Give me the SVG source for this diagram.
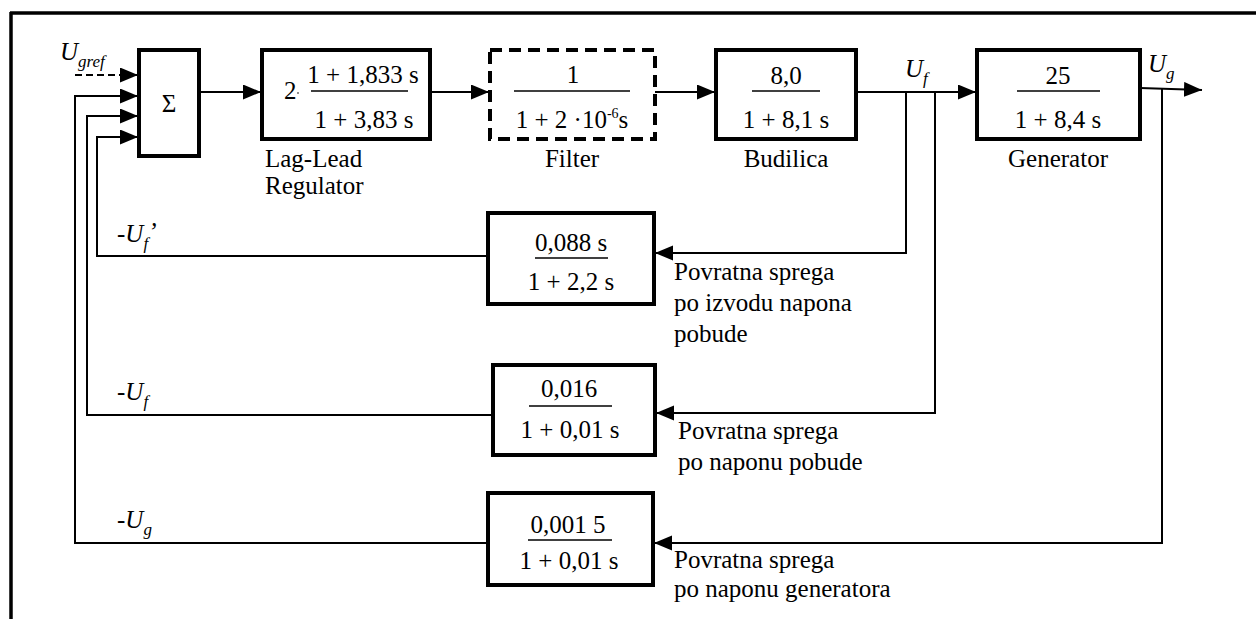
<svg xmlns="http://www.w3.org/2000/svg" width="1256" height="619" viewBox="0 0 1256 619" font-family="Liberation Serif, Tinos, DejaVu Serif, Noto Serif, serif">
<defs>
<marker id="arr" markerUnits="userSpaceOnUse" markerWidth="20" markerHeight="16" refX="18" refY="7.5" orient="auto">
<path d="M0,0 L18,7.5 L0,15 Z" fill="#000"/>
</marker>
</defs>
<style>
text{font-family:'Liberation Serif',Tinos,'DejaVu Serif','Noto Serif',serif}
.t{font-size:25px;fill:#000}
.i{font-style:italic}
.sub{font-size:17px}
.box{fill:#fff;stroke:#000;stroke-width:4}
.dash{fill:#fff;stroke:#000;stroke-width:4;stroke-dasharray:12 7}
.ln{fill:none;stroke:#000;stroke-width:2}
.fl{stroke:#000;stroke-width:1.6}
.m{text-anchor:middle}
</style>
<rect width="1256" height="619" fill="#fff"/>
<g id="frame">
<line x1="10" y1="13" x2="1256" y2="13" stroke="#000" stroke-width="3.5"/>
<line x1="11" y1="12" x2="11" y2="619" stroke="#000" stroke-width="3.5"/>
</g>
<g id="connectors">
<line class="ln" x1="75" y1="75" x2="138" y2="75" stroke-dasharray="7 4" marker-end="url(#arr)"/>
<polyline class="ln" points="488,543 75,543 75,96 138,96" marker-end="url(#arr)"/>
<polyline class="ln" points="493,415 87,415 87,116 138,116" marker-end="url(#arr)"/>
<polyline class="ln" points="488,256 97,256 97,137 138,137" marker-end="url(#arr)"/>
<line class="ln" x1="199" y1="92" x2="261" y2="92" marker-end="url(#arr)"/>
<line class="ln" x1="430" y1="92" x2="489" y2="92" marker-end="url(#arr)"/>
<line class="ln" x1="655" y1="92" x2="715" y2="92" marker-end="url(#arr)"/>
<line class="ln" x1="856" y1="92" x2="976" y2="92" marker-end="url(#arr)"/>
<line class="ln" x1="1140" y1="88" x2="1202" y2="90" marker-end="url(#arr)"/>
<polyline class="ln" points="906,92 906,253 655,253" marker-end="url(#arr)"/>
<polyline class="ln" points="935,92 935,413 656,413" marker-end="url(#arr)"/>
<polyline class="ln" points="1162,89 1162,543 654,543" marker-end="url(#arr)"/>
</g>
<g id="sum">
<rect class="box" x="139" y="50" width="60" height="106" stroke-width="3"/>
<text class="t m" x="169" y="112">Σ</text>
</g>
<g id="laglead">
<rect class="box" x="262" y="50" width="168" height="89"/>
<text class="t" x="284" y="99">2</text>
<circle cx="298" cy="93" r="0.8" fill="#000"/>
<text class="t m" x="363" y="83">1 + 1,833 s</text>
<line class="fl" x1="311" y1="91" x2="408" y2="91"/>
<text class="t m" x="364" y="128">1 + 3,83 s</text>
<text class="t" x="265" y="167">Lag-Lead</text>
<text class="t" x="265" y="194">Regulator</text>
</g>
<g id="filter">
<rect class="dash" x="490" y="50" width="165" height="89"/>
<text class="t m" x="573" y="83">1</text>
<line class="fl" x1="514" y1="91" x2="630" y2="91"/>
<text class="t m" x="572" y="128">1 + 2 ·10<tspan font-size="14" dy="-10">-6</tspan><tspan dy="10">s</tspan></text>
<text class="t m" x="572" y="167">Filter</text>
</g>
<g id="budilica">
<rect class="box" x="716" y="50" width="140" height="89"/>
<text class="t m" x="786" y="84">8,0</text>
<line class="fl" x1="752" y1="91" x2="820" y2="91"/>
<text class="t m" x="786" y="128">1 + 8,1 s</text>
<text class="t m" x="786" y="167">Budilica</text>
</g>
<g id="generator">
<rect class="box" x="977" y="50" width="163" height="89"/>
<text class="t m" x="1058" y="84">25</text>
<line class="fl" x1="1017" y1="91" x2="1100" y2="91"/>
<text class="t m" x="1058" y="128">1 + 8,4 s</text>
<text class="t m" x="1058" y="167">Generator</text>
</g>
<g id="fb1">
<rect class="box" x="488" y="213" width="166" height="91"/>
<text class="t m" x="571" y="251">0,088 s</text>
<line class="fl" x1="535" y1="258" x2="608" y2="258"/>
<text class="t m" x="571" y="290">1 + 2,2 s</text>
<text class="t" x="674" y="280">Povratna sprega</text>
<text class="t" x="674" y="311">po izvodu napona</text>
<text class="t" x="674" y="342">pobude</text>
</g>
<g id="fb2">
<rect class="box" x="493" y="365" width="162" height="90"/>
<text class="t m" x="569" y="397">0,016</text>
<line class="fl" x1="529" y1="406" x2="612" y2="406"/>
<text class="t m" x="570" y="438">1 + 0,01 s</text>
<text class="t" x="678" y="439">Povratna sprega</text>
<text class="t" x="678" y="470">po naponu pobude</text>
</g>
<g id="fb3">
<rect class="box" x="488" y="493" width="165" height="92"/>
<text class="t m" x="568" y="533">0,001 5</text>
<line class="fl" x1="528" y1="540" x2="612" y2="540"/>
<text class="t m" x="569" y="569">1 + 0,01 s</text>
<text class="t" x="674" y="568">Povratna sprega</text>
<text class="t" x="674" y="597">po naponu generatora</text>
</g>
<g id="labels">
<text class="t i" x="60" y="60">U<tspan class="sub" dy="7">gref</tspan></text>
<text class="t i" x="905" y="77">U<tspan class="sub" dy="7">f</tspan></text>
<text class="t i" x="1148" y="72">U<tspan class="sub" dy="7">g</tspan></text>
<text class="t i" x="117" y="242">-U<tspan class="sub" dy="7">f</tspan><tspan dy="-9">’</tspan></text>
<text class="t i" x="117" y="400">-U<tspan class="sub" dy="7">f</tspan></text>
<text class="t i" x="117" y="528">-U<tspan class="sub" dy="7">g</tspan></text>
</g>
</svg>
